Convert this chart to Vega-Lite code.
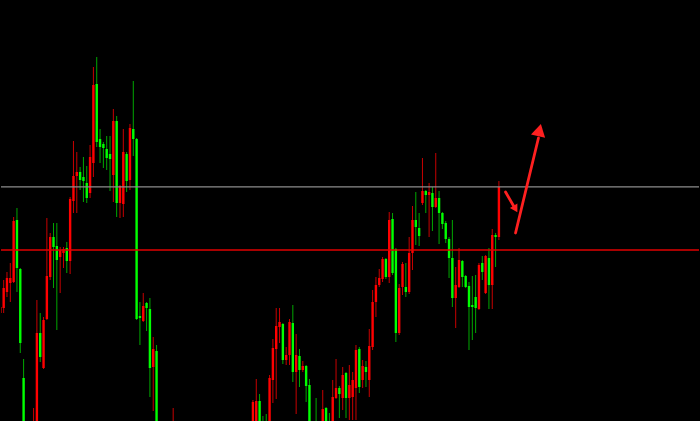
{
  "$schema": "https://vega.github.io/schema/vega-lite/v6.json",
  "width": 700,
  "height": 421,
  "autosize": {"type": "fit", "contains": "padding"},
  "padding": 0,
  "background": "#000000",
  "config": {"view": {"stroke": null}},
  "datasets": {
    "candles": [
      {"i":0,"o":287,"h":297,"l":285,"c":293},{"i":1,"o":292,"h":320,"l":287,"c":312},{"i":2,"o":308,"h":328,"l":303,"c":322},{"i":3,"o":317,"h":337,"l":298,"c":322},
      {"i":4,"o":318,"h":383,"l":317,"c":379},{"i":5,"o":380,"h":392,"l":308,"c":332},{"i":6,"o":331,"h":332,"l":247,"c":257},{"i":7,"o":222,"h":241,"l":148,"c":155},
      {"i":8,"o":155,"h":162,"l":120,"c":130},{"i":9,"o":130,"h":150,"l":122,"c":145},{"i":10,"o":145,"h":192,"l":140,"c":175},{"i":11,"o":160,"h":300,"l":155,"c":267},
      {"i":12,"o":267,"h":287,"l":238,"c":243},{"i":13,"o":232,"h":283,"l":231,"c":280},{"i":14,"o":281,"h":382,"l":280,"c":324},{"i":15,"o":323,"h":367,"l":320,"c":363},
      {"i":16,"o":363,"h":377,"l":312,"c":353},{"i":17,"o":354,"h":377,"l":270,"c":340},{"i":18,"o":343,"h":353,"l":307,"c":350},{"i":19,"o":347,"h":353,"l":332,"c":351},
      {"i":20,"o":352,"h":358,"l":327,"c":339},{"i":21,"o":339,"h":403,"l":326,"c":401},{"i":22,"o":399,"h":459,"l":387,"c":424},{"i":23,"o":424,"h":448,"l":387,"c":428},
      {"i":24,"o":428,"h":433,"l":410,"c":420},{"i":25,"o":423,"h":443,"l":398,"c":419},{"i":26,"o":417,"h":434,"l":397,"c":402},{"i":27,"o":407,"h":455,"l":402,"c":443},
      {"i":28,"o":437,"h":533,"l":423,"c":515},{"i":29,"o":516,"h":543,"l":453,"c":458},{"i":30,"o":461,"h":471,"l":437,"c":453},{"i":31,"o":456,"h":458,"l":432,"c":452},
      {"i":32,"o":451,"h":464,"l":430,"c":442},{"i":33,"o":446,"h":464,"l":409,"c":441},{"i":34,"o":425,"h":491,"l":398,"c":479},{"i":35,"o":479,"h":484,"l":383,"c":397},
      {"i":36,"o":397,"h":415,"l":382,"c":414},{"i":37,"o":396,"h":471,"l":383,"c":448},{"i":38,"o":446,"h":448,"l":408,"c":419},{"i":39,"o":420,"h":476,"l":410,"c":472},
      {"i":40,"o":471,"h":519,"l":444,"c":461},{"i":41,"o":461,"h":462,"l":280,"c":281},{"i":42,"o":284,"h":298,"l":255,"c":282},{"i":43,"o":279,"h":307,"l":278,"c":294},
      {"i":44,"o":297,"h":298,"l":269,"c":292},{"i":45,"o":291,"h":302,"l":203,"c":232},{"i":46,"o":233,"h":263,"l":189,"c":251},{"i":47,"o":249,"h":255,"l":150,"c":155},
      {"i":48,"o":155,"h":160,"l":120,"c":130},{"i":49,"o":130,"h":150,"l":125,"c":145},{"i":50,"o":145,"h":155,"l":122,"c":130},{"i":51,"o":130,"h":170,"l":128,"c":160},
      {"i":52,"o":160,"h":192,"l":155,"c":170},{"i":53,"o":169,"h":174,"l":138,"c":142},{"i":54,"o":142,"h":150,"l":117,"c":124},{"i":55,"o":124,"h":145,"l":119,"c":138},
      {"i":56,"o":138,"h":142,"l":105,"c":111},{"i":57,"o":111,"h":118,"l":89,"c":97},{"i":58,"o":97,"h":121,"l":93,"c":114},{"i":59,"o":114,"h":123,"l":95,"c":102},
      {"i":60,"o":102,"h":134,"l":99,"c":128},{"i":61,"o":128,"h":132,"l":103,"c":110},{"i":62,"o":110,"h":115,"l":82,"c":88},{"i":63,"o":88,"h":110,"l":85,"c":105},
      {"i":64,"o":105,"h":126,"l":101,"c":119},{"i":65,"o":119,"h":130,"l":100,"c":107},{"i":66,"o":107,"h":138,"l":104,"c":130},{"i":67,"o":130,"h":148,"l":125,"c":141},
      {"i":68,"o":141,"h":151,"l":118,"c":123},{"i":69,"o":123,"h":153,"l":120,"c":145},{"i":70,"o":145,"h":162,"l":138,"c":154},{"i":71,"o":154,"h":160,"l":132,"c":137},
      {"i":72,"o":137,"h":164,"l":134,"c":156},{"i":73,"o":156,"h":171,"l":148,"c":163},{"i":74,"o":163,"h":173,"l":143,"c":148},{"i":75,"o":148,"h":175,"l":145,"c":170},
      {"i":76,"o":170,"h":200,"l":165,"c":198},{"i":77,"o":175,"h":221,"l":170,"c":199},{"i":78,"o":199,"h":206,"l":168,"c":172},{"i":79,"o":172,"h":184,"l":154,"c":160},
      {"i":80,"o":160,"h":186,"l":145,"c":152},{"i":81,"o":152,"h":225,"l":148,"c":222},{"i":82,"o":220,"h":261,"l":197,"c":252},{"i":83,"o":251,"h":292,"l":201,"c":274},
      {"i":84,"o":273,"h":292,"l":257,"c":278},{"i":85,"o":276,"h":277,"l":236,"c":240},{"i":86,"o":240,"h":253,"l":235,"c":245},{"i":87,"o":245,"h":281,"l":235,"c":278},
      {"i":88,"o":277,"h":295,"l":218,"c":228},{"i":89,"o":228,"h":266,"l":186,"c":245},{"i":90,"o":244,"h":251,"l":213,"c":230},{"i":91,"o":230,"h":239,"l":228,"c":234},
      {"i":92,"o":234,"h":235,"l":198,"c":214},{"i":93,"o":215,"h":221,"l":164,"c":170},{"i":94,"o":170,"h":178,"l":160,"c":176},{"i":95,"o":175,"h":202,"l":154,"c":160},
      {"i":96,"o":160,"h":176,"l":155,"c":172},{"i":97,"o":170,"h":210,"l":166,"c":191},{"i":98,"o":192,"h":193,"l":168,"c":172},{"i":99,"o":172,"h":187,"l":158,"c":164},
      {"i":100,"o":164,"h":220,"l":160,"c":203},{"i":101,"o":202,"h":241,"l":201,"c":212},{"i":102,"o":212,"h":214,"l":182,"c":206},{"i":103,"o":202,"h":233,"l":190,"c":225},
      {"i":104,"o":227,"h":228,"l":182,"c":202},{"i":105,"o":202,"h":235,"l":180,"c":215},{"i":106,"o":203,"h":228,"l":180,"c":220},{"i":107,"o":212,"h":255,"l":180,"c":250},
      {"i":108,"o":251,"h":253,"l":207,"c":213},{"i":109,"o":220,"h":240,"l":212,"c":234},{"i":110,"o":233,"h":239,"l":213,"c":228},{"i":111,"o":220,"h":271,"l":203,"c":254},
      {"i":112,"o":253,"h":310,"l":250,"c":298},{"i":113,"o":298,"h":323,"l":283,"c":315},{"i":114,"o":315,"h":331,"l":313,"c":322},{"i":115,"o":321,"h":343,"l":318,"c":341},
      {"i":116,"o":341,"h":342,"l":321,"c":323},{"i":117,"o":323,"h":388,"l":317,"c":380},{"i":118,"o":381,"h":387,"l":325,"c":327},{"i":119,"o":351,"h":352,"l":258,"c":267},
      {"i":120,"o":267,"h":316,"l":265,"c":312},{"i":121,"o":313,"h":338,"l":305,"c":336},{"i":122,"o":313,"h":337,"l":303,"c":308},{"i":123,"o":308,"h":363,"l":306,"c":347},
      {"i":124,"o":347,"h":394,"l":330,"c":380},{"i":125,"o":380,"h":408,"l":355,"c":373},{"i":126,"o":372,"h":387,"l":354,"c":364},{"i":127,"o":397,"h":442,"l":395,"c":409},
      {"i":128,"o":409,"h":410,"l":387,"c":405},{"i":129,"o":405,"h":417,"l":363,"c":408},{"i":130,"o":407,"h":413,"l":369,"c":393},{"i":131,"o":393,"h":447,"l":392,"c":402},
      {"i":132,"o":402,"h":409,"l":356,"c":387},{"i":133,"o":387,"h":388,"l":371,"c":376},{"i":134,"o":377,"h":379,"l":357,"c":361},{"i":135,"o":361,"h":363,"l":322,"c":342},
      {"i":136,"o":342,"h":380,"l":293,"c":302},{"i":137,"o":302,"h":333,"l":272,"c":315},{"i":138,"o":313,"h":352,"l":312,"c":340},{"i":139,"o":339,"h":340,"l":313,"c":323},
      {"i":140,"o":324,"h":325,"l":312,"c":313},{"i":141,"o":314,"h":318,"l":250,"c":293},{"i":142,"o":295,"h":324,"l":260,"c":293},{"i":143,"o":303,"h":325,"l":267,"c":292},
      {"i":144,"o":291,"h":337,"l":290,"c":335},{"i":145,"o":337,"h":344,"l":320,"c":328},{"i":146,"o":307,"h":345,"l":306,"c":344},{"i":147,"o":342,"h":352,"l":291,"c":315},
      {"i":148,"o":315,"h":371,"l":291,"c":365},{"i":149,"o":365,"h":367,"l":333,"c":363},{"i":150,"o":363,"h":419,"l":360,"c":413}
    ],
    "levels": [
      {"name": "resistance", "price": 413.2},
      {"name": "support", "price": 350}
    ],
    "arrow": [
      {"part": "shaft", "seq": 0, "i": 155.0, "price": 367},
      {"part": "shaft", "seq": 1, "i": 161.9, "price": 462},
      {"part": "tick", "seq": 0, "i": 152.0, "price": 408},
      {"part": "tick", "seq": 1, "i": 154.6, "price": 393},
      {"part": "head", "seq": 0, "i": 162.2, "price": 470},
      {"part": "barb", "seq": 0, "i": 155.0, "price": 391}
    ]
  },
  "layer": [
    {
      "data": {"name": "candles"},
      "mark": {"type": "rule", "strokeWidth": 1, "clip": true},
      "encoding": {
        "x": {"field": "i", "type": "quantitative", "scale": {"domain": [0.2, 210.2], "nice": false, "zero": false}, "axis": null},
        "y": {"field": "l", "type": "quantitative", "scale": {"domain": [179, 600], "nice": false, "zero": false}, "axis": null},
        "y2": {"field": "h"},
        "color": {"condition": {"test": "datum.c > datum.o", "value": "#c80000"}, "value": "#00a800"}
      }
    },
    {
      "data": {"name": "candles"},
      "mark": {"type": "rule", "strokeWidth": 2.4, "clip": true},
      "encoding": {
        "x": {"field": "i", "type": "quantitative", "scale": {"domain": [0.2, 210.2], "nice": false, "zero": false}, "axis": null},
        "y": {"field": "o", "type": "quantitative", "scale": {"domain": [179, 600], "nice": false, "zero": false}, "axis": null},
        "y2": {"field": "c"},
        "color": {"condition": {"test": "datum.c > datum.o", "value": "#ff0000"}, "value": "#00ff00"}
      }
    },
    {
      "data": {"name": "levels"},
      "mark": {"type": "rule", "strokeWidth": 1.3},
      "encoding": {
        "y": {"field": "price", "type": "quantitative", "scale": {"domain": [179, 600], "nice": false, "zero": false}, "axis": null},
        "color": {"condition": {"test": "datum.name === 'support'", "value": "#e00000"}, "value": "#8c8c8c"}
      }
    },
    {
      "data": {"name": "arrow"},
      "transform": [{"filter": "datum.part === 'shaft' || datum.part === 'tick'"}],
      "mark": {"type": "line", "color": "#ff2020", "strokeWidth": 2.8, "strokeCap": "round"},
      "encoding": {
        "x": {"field": "i", "type": "quantitative", "scale": {"domain": [0.2, 210.2], "nice": false, "zero": false}, "axis": null},
        "y": {"field": "price", "type": "quantitative", "scale": {"domain": [179, 600], "nice": false, "zero": false}, "axis": null},
        "detail": {"field": "part"},
        "order": {"field": "seq"}
      }
    },
    {
      "data": {"name": "arrow"},
      "transform": [{"filter": "datum.part === 'head'"}],
      "mark": {"type": "point", "shape": "triangle-up", "filled": true, "color": "#ff2020", "opacity": 1, "size": 210, "angle": 13},
      "encoding": {
        "x": {"field": "i", "type": "quantitative", "scale": {"domain": [0.2, 210.2], "nice": false, "zero": false}, "axis": null},
        "y": {"field": "price", "type": "quantitative", "scale": {"domain": [179, 600], "nice": false, "zero": false}, "axis": null}
      }
    },
    {
      "data": {"name": "arrow"},
      "transform": [{"filter": "datum.part === 'barb'"}],
      "mark": {"type": "point", "shape": "triangle-up", "filled": true, "color": "#ff2020", "opacity": 1, "size": 75, "angle": 150},
      "encoding": {
        "x": {"field": "i", "type": "quantitative", "scale": {"domain": [0.2, 210.2], "nice": false, "zero": false}, "axis": null},
        "y": {"field": "price", "type": "quantitative", "scale": {"domain": [179, 600], "nice": false, "zero": false}, "axis": null}
      }
    }
  ]
}
